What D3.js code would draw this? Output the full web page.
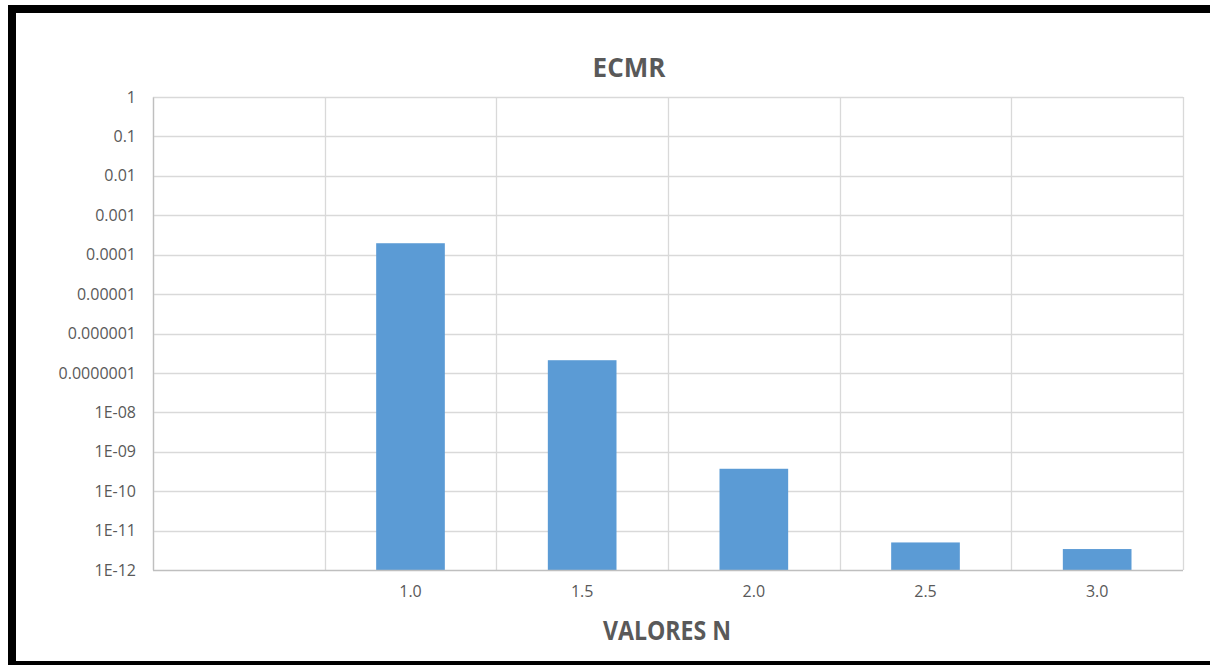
<!DOCTYPE html>
<html>
<head>
<meta charset="utf-8">
<script src="https://cdn.jsdelivr.net/npm/d3@7"></script>
<style>
  html, body { margin: 0; padding: 0; background: #ffffff; }
  svg { display: block; }
</style>
</head>
<body>
<svg id="chart" width="1210" height="665"></svg>
<script>
// Categories along the x axis (the first slot is an empty category)
const categories = ["", "1.0", "1.5", "2.0", "2.5", "3.0"];
// ECMR value for each N
const ecmrValues = [null, 1.95e-4, 2.1e-7, 3.7e-10, 5.0e-12, 3.4e-12];
// Logarithmic y ticks and their printed labels
const yTickValues = [1, 1e-1, 1e-2, 1e-3, 1e-4, 1e-5, 1e-6, 1e-7, 1e-8, 1e-9, 1e-10, 1e-11, 1e-12];
const yTickLabels = ["1", "0.1", "0.01", "0.001", "0.0001", "0.00001", "0.000001", "0.0000001",
                     "1E-08", "1E-09", "1E-10", "1E-11", "1E-12"];

const chartTitle = "ECMR";
const xAxisTitle = "VALORES N";

const W = 1210, H = 665;
const plot = { left: 153, right: 1183, top: 97, bottom: 570 };
const textColor = "#595959";
const gridColor = "#d9d9d9";
const barColor = "#5b9bd5";
const font = "'Open Sans', 'Liberation Sans', Arial, sans-serif";

const svg = d3.select("#chart");

// Page frame: black bands on left, top and bottom
svg.append("rect").attr("x", 0).attr("y", 0).attr("width", W).attr("height", H).attr("fill", "#ffffff");
svg.append("rect").attr("x", 8).attr("y", 5).attr("width", W - 8).attr("height", 8).attr("fill", "#000000");
svg.append("rect").attr("x", 8).attr("y", 5).attr("width", 8).attr("height", H - 5).attr("fill", "#000000");
svg.append("rect").attr("x", 8).attr("y", 661).attr("width", W - 8).attr("height", 4).attr("fill", "#000000");

const x = d3.scaleBand()
  .domain(d3.range(categories.length))
  .range([plot.left, plot.right])
  .paddingInner(0)
  .paddingOuter(0);

const y = d3.scaleLog()
  .domain([1e-12, 1])
  .range([plot.bottom, plot.top]);

// Horizontal gridlines
svg.append("g")
  .selectAll("line")
  .data(yTickValues.filter(v => v > 1e-12))
  .join("line")
  .attr("x1", plot.left).attr("x2", plot.right)
  .attr("y1", d => Math.round(y(d)) + 0.5).attr("y2", d => Math.round(y(d)) + 0.5)
  .attr("stroke", gridColor).attr("stroke-width", 1.3);

// Vertical gridlines at category boundaries
const bounds = d3.range(categories.length + 1).map(i => i < categories.length ? x(i) : plot.right);
svg.append("g")
  .selectAll("line")
  .data(bounds)
  .join("line")
  .attr("x1", d => Math.round(d) + 0.5).attr("x2", d => Math.round(d) + 0.5)
  .attr("y1", plot.top).attr("y2", plot.bottom)
  .attr("stroke", gridColor).attr("stroke-width", 1.3);

// Bars (drawn from the log baseline at 1E-12)
const barWidth = x.bandwidth() / 2.5;
svg.append("g")
  .selectAll("rect")
  .data(ecmrValues.map((v, i) => ({ v, i })).filter(d => d.v != null))
  .join("rect")
  .attr("x", d => x(d.i) + (x.bandwidth() - barWidth) / 2)
  .attr("y", d => y(d.v))
  .attr("width", barWidth)
  .attr("height", d => y(1e-12) - y(d.v))
  .attr("fill", barColor);

// Bottom axis line
svg.append("line")
  .attr("x1", plot.left).attr("x2", plot.right)
  .attr("y1", plot.bottom + 0.5).attr("y2", plot.bottom + 0.5)
  .attr("stroke", "#bfbfbf").attr("stroke-width", 1.5);

// Y axis with custom labels
const yAxis = d3.axisLeft(y)
  .tickValues(yTickValues)
  .tickFormat((d, i) => yTickLabels[i])
  .tickSize(0)
  .tickPadding(17);
const gy = svg.append("g")
  .attr("transform", `translate(${plot.left},0)`)
  .call(yAxis);
gy.select(".domain").attr("stroke", "#bfbfbf").attr("stroke-width", 1.3);
gy.selectAll("text")
  .attr("fill", textColor)
  .style("font-family", font)
  .style("font-size", "16px");

// X axis with category labels
const xAxis = d3.axisBottom(x)
  .tickFormat(i => categories[i])
  .tickSize(0)
  .tickPadding(16);
const gx = svg.append("g")
  .attr("transform", `translate(0,${plot.bottom})`)
  .call(xAxis);
gx.select(".domain").remove();
gx.selectAll("text")
  .attr("fill", textColor)
  .style("font-family", font)
  .style("font-size", "16px");

// Chart title
svg.append("text")
  .attr("x", 629).attr("y", 77)
  .attr("text-anchor", "middle")
  .attr("fill", textColor)
  .style("font-family", font)
  .style("font-weight", "bold")
  .style("font-size", "26px")
  .text(chartTitle);

// X axis title
svg.append("text")
  .attr("x", 667).attr("y", 640)
  .attr("text-anchor", "middle")
  .attr("fill", textColor)
  .attr("textLength", 128)
  .attr("lengthAdjust", "spacingAndGlyphs")
  .style("font-family", font)
  .style("font-weight", "bold")
  .style("font-size", "27px")
  .text(xAxisTitle);
</script>
</body>
</html>
